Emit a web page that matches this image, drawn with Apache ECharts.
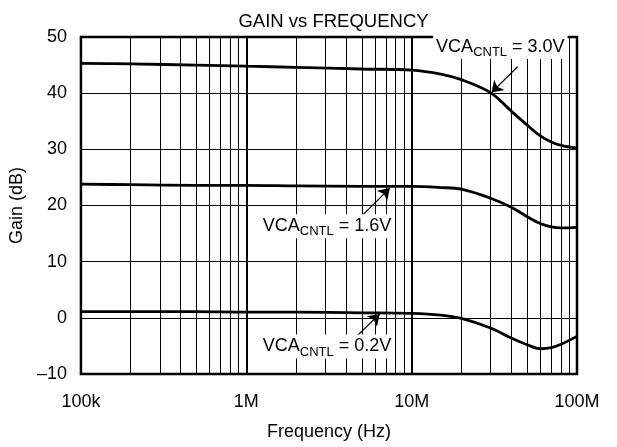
<!DOCTYPE html>
<html><head><meta charset="utf-8">
<script src="https://cdn.jsdelivr.net/npm/echarts@6/dist/echarts.min.js"></script>
<style>html,body{margin:0;padding:0;background:#fff}#c{width:617px;height:447px}</style>
</head><body><div id="c"></div>
<script>
// ---- data ----
const frequencies = [1e5, 2e5, 5e5, 1e6, 2e6, 5e6, 1e7, 1.5e7, 2e7, 3e7, 4e7, 5e7, 6e7, 7e7, 8e7, 1e8];
const gain30V = [45.3, 45.2, 45.0, 44.8, 44.6, 44.3, 44.1, 43.4, 42.4, 40.1, 36.8, 34.3, 32.4, 31.3, 30.7, 30.2];
const gain16V = [23.8, 23.7, 23.6, 23.6, 23.5, 23.4, 23.4, 23.2, 22.9, 21.3, 19.7, 18.0, 16.8, 16.2, 16.0, 16.1];
const gain02V = [1.1, 1.1, 1.1, 1.0, 1.0, 0.9, 0.8, 0.5, -0.1, -1.8, -3.6, -4.8, -5.5, -5.3, -4.7, -3.3];
const xTickLabels = ['100k', '1M', '10M', '100M'];
const minorGridFreqs = [2e5,3e5,4e5,5e5,6e5,7e5,8e5,9e5, 2e6,3e6,4e6,5e6,6e6,7e6,8e6,9e6, 2e7,3e7,4e7,5e7,6e7,7e7,8e7,9e7];
const curveLabels = ['3.0V', '1.6V', '0.2V'];
// annotation anchors, in data units [Hz, dB]
const labelAt   = [[34.4e6, 48.2], [3.08e6, 16.3], [3.08e6, -5.1]];
const arrowFrom = [[43.7e6, 44.7], [4.98e6, 18.1], [4.54e6, -3.6]];
const arrowTo   = [[30.4e6, 40.1], [7.38e6, 23.1], [6.41e6, 0.7]];

const FONT = 'Liberation Sans, Arial, Helvetica, sans-serif';
const GRID = {left: 80, right: 40, top: 37, bottom: 73};
const chart = echarts.init(document.getElementById('c'), null, {renderer: 'canvas'});
const plotCenterX = GRID.left + (617 - GRID.left - GRID.right) / 2;

const curves = [gain30V, gain16V, gain02V].map((g, k) => ({
  type: 'line', name: curveLabels[k], z: 3, silent: true,
  data: frequencies.map((f, i) => [f, g[i]]),
  smooth: 0.35, symbol: 'none',
  lineStyle: {color: '#000', width: 2.8}
}));

chart.setOption({
  animation: false,
  backgroundColor: '#fff',
  title: {
    text: 'GAIN vs FREQUENCY', left: plotCenterX, textAlign: 'center', top: 7,
    textStyle: {fontFamily: FONT, fontSize: 18.5, fontWeight: 'normal', color: '#000'}
  },
  grid: Object.assign({show: true, borderColor: '#000', borderWidth: 2.5}, GRID),
  xAxis: {
    type: 'log', logBase: 10, min: 1e5, max: 1e8,
    name: 'Frequency (Hz)', nameLocation: 'middle', nameGap: 49,
    nameTextStyle: {fontFamily: FONT, fontSize: 18, color: '#000'},
    axisLine: {show: false}, axisTick: {show: false},
    axisLabel: {
      fontFamily: FONT, fontSize: 18, color: '#000', margin: 19,
      formatter: v => xTickLabels[Math.round(Math.log10(v)) - 5] || ''
    },
    splitLine: {show: true, lineStyle: {color: '#000', width: 2}}
  },
  yAxis: {
    type: 'value', min: -10, max: 50, interval: 10,
    name: 'Gain (dB)', nameLocation: 'middle', nameGap: 52,
    nameTextStyle: {fontFamily: FONT, fontSize: 18, color: '#000'},
    axisLine: {show: false}, axisTick: {show: false},
    axisLabel: {
      fontFamily: FONT, fontSize: 18, color: '#000', margin: 14, padding: [4, 0, 0, 0],
      formatter: v => v < 0 ? '\u2013' + Math.abs(v) : String(v)
    },
    splitLine: {show: true, lineStyle: {color: '#000', width: 1}}
  },
  series: [
    {
      type: 'line', data: [], z: 1, silent: true,
      markLine: {
        silent: true, symbol: 'none', animation: false,
        label: {show: false},
        lineStyle: {color: '#000', width: 1, type: 'solid'},
        emphasis: {disabled: true},
        data: minorGridFreqs.map(f => ({xAxis: f}))
      }
    },
    ...curves,
    {
      type: 'line', data: [], z: 6, silent: true,
      markLine: {
        silent: true, animation: false,
        symbol: ['none', 'arrow'], symbolSize: 11,
        label: {show: false},
        emphasis: {disabled: true},
        lineStyle: {color: '#000', width: 1.2, type: 'solid'},
        data: arrowFrom.map((p, i) => [{coord: p}, {coord: arrowTo[i]}])
      },
      markPoint: {
        silent: true, animation: false,
        symbol: 'rect', symbolSize: 1,
        itemStyle: {color: 'rgba(0,0,0,0)'},
        label: {
          show: true, position: 'inside',
          backgroundColor: '#fff', padding: [0, 3],
          formatter: p => '{a|VCA}{b|CNTL}{a| = ' + p.name + '}',
          rich: {
            a: {fontFamily: FONT, fontSize: 18, color: '#000', lineHeight: 24},
            b: {fontFamily: FONT, fontSize: 13, color: '#000', lineHeight: 14, verticalAlign: 'bottom'}
          }
        },
        data: labelAt.map((p, i) => ({coord: p, name: curveLabels[i]}))
      }
    }
  ]
});
</script>
</body></html>
